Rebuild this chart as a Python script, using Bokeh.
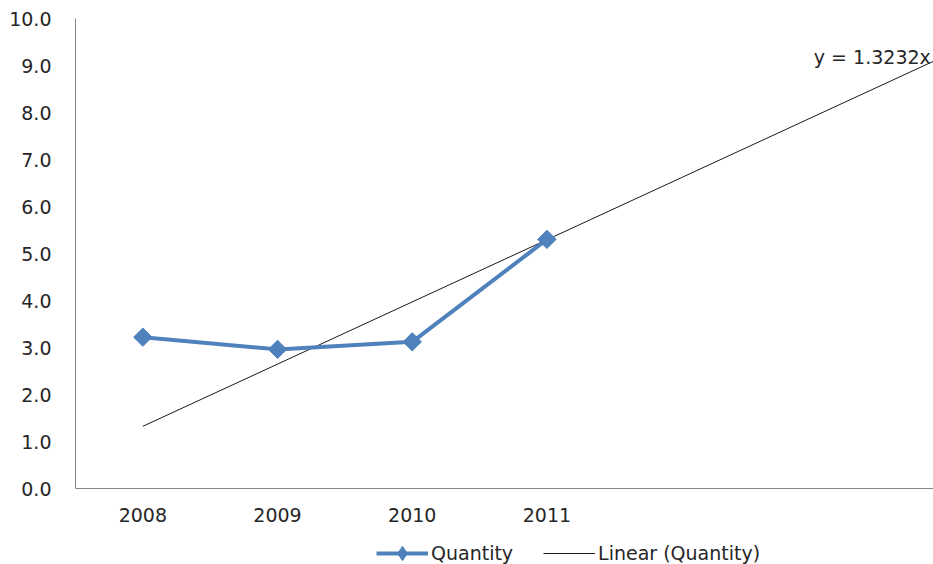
import math
from bokeh.plotting import figure
from bokeh.models import FixedTicker, Legend, LegendItem, Label, NumeralTickFormatter, Range1d
from bokeh.embed import file_html
from bokeh.resources import INLINE

# Yearly quantity series
years = ["2008", "2009", "2010", "2011"]
year_pos = [1, 2, 3, 4]
quantity = [3.22, 2.96, 3.12, 5.30]

# Linear trend through the origin, projected forward
slope = 1.3232
trend_x = [1, 7]
trend_y = [slope * x for x in trend_x]

y_ticks = [0, 1, 2, 3, 4, 5, 6, 7, 8, 9, 10]

FONT = "DejaVu Sans"
FSIZE = "19px"
BLUE = "#4F81BD"
TEXT = "#262626"

# The frame runs to the bottom edge; the value axis spans 0..10 at 47 px per
# unit, leaving 76 px under zero for the year labels and the legend.
PX_PER_UNIT = 47
y_floor = -76 / PX_PER_UNIT

p = figure(width=933, height=564, output_backend="svg", toolbar_location=None,
           x_range=Range1d(0.5, 6.87), y_range=Range1d(y_floor, 10),
           min_border_left=75, min_border_right=0, min_border_top=18,
           min_border_bottom=0)
p.outline_line_color = None
p.xgrid.visible = False
p.ygrid.visible = False

for ax in (p.xaxis[0], p.yaxis[0]):
    ax.axis_line_color = "#868686"
    ax.axis_line_width = 1
    ax.major_tick_line_color = None
    ax.minor_tick_line_color = None
    ax.major_label_text_font = FONT
    ax.major_label_text_font_size = FSIZE
    ax.major_label_text_color = TEXT

p.xaxis.fixed_location = 0
p.xaxis.ticker = FixedTicker(ticks=year_pos)
p.xaxis.major_label_overrides = {pos: yr for pos, yr in zip(year_pos, years)}
p.xaxis.major_label_standoff = 13
p.yaxis.bounds = (0, 10)
p.yaxis.ticker = FixedTicker(ticks=y_ticks)
p.yaxis.formatter = NumeralTickFormatter(format="0.0")
p.yaxis.major_label_standoff = 18

trend = p.line(trend_x, trend_y, line_color="#1a1a1a", line_width=1)
q_line = p.line(year_pos, quantity, line_color=BLUE, line_width=4)
# diamonds drawn as squares turned through 45 degrees
q_pts = p.scatter(year_pos, quantity, marker="square", size=13, angle=math.pi / 4,
                  fill_color=BLUE, line_color=BLUE)
# hidden diamond renderer that only supplies the legend swatch
q_key = p.scatter(year_pos, quantity, marker="diamond", fill_color=BLUE,
                  line_color=BLUE, visible=False)

legend = Legend(items=[LegendItem(label="Quantity", renderers=[q_line, q_key]),
                       LegendItem(label="Linear (Quantity)", renderers=[trend])],
                orientation="horizontal", location=(301, -7),
                glyph_width=52, glyph_height=36, label_height=20,
                label_standoff=3, spacing=30, padding=0, margin=0,
                label_text_font=FONT, label_text_font_size=FSIZE,
                label_text_color=TEXT,
                border_line_color=None, background_fill_alpha=0)
p.add_layout(legend, "center")

p.add_layout(Label(x=6.85, y=9.19, text=f"y = {slope}x", text_align="right",
                   text_baseline="middle", text_font=FONT,
                   text_font_size=FSIZE, text_color=TEXT))

open("out.html", "w").write(file_html(p, INLINE))
